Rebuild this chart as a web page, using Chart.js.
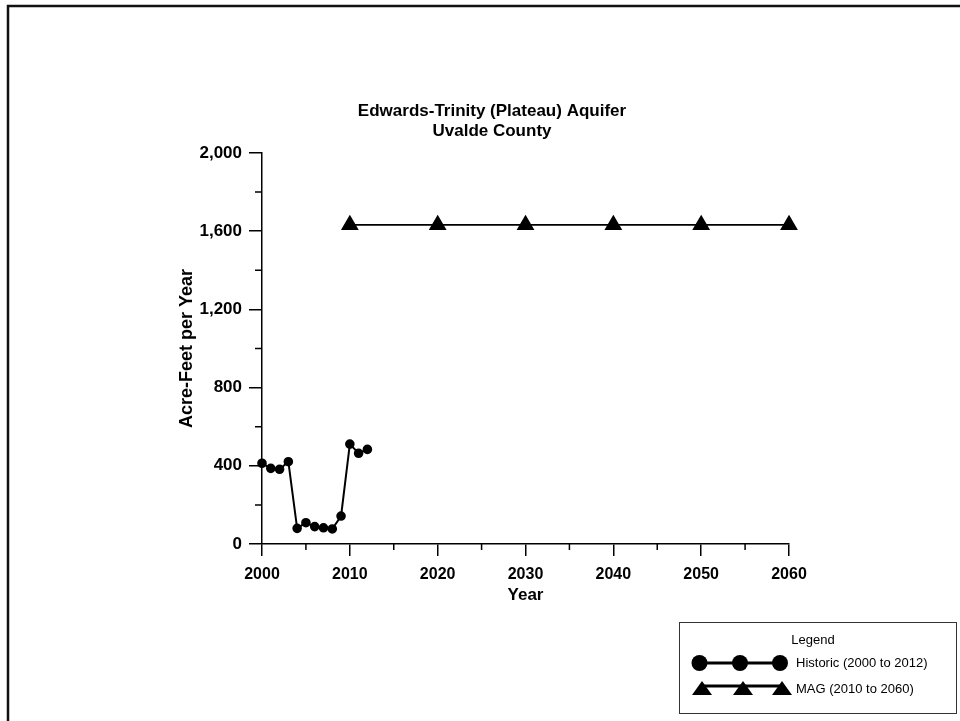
<!DOCTYPE html>
<html>
<head>
<meta charset="utf-8">
<script src="https://cdn.jsdelivr.net/npm/chart.js@4/dist/chart.umd.min.js"></script>
<style>
  html, body { margin: 0; padding: 0; background: #fff; }
  #c { display: block; }
</style>
</head>
<body>
<canvas id="c" width="960" height="721"></canvas>
<script>
// values
const historicYears  = [2000, 2001, 2002, 2003, 2004, 2005, 2006, 2007, 2008, 2009, 2010, 2011, 2012];
const historicValues = [413, 387, 382, 421, 80, 109, 89, 83, 77, 143, 511, 464, 484];
const magYears  = [2010, 2020, 2030, 2040, 2050, 2060];
const magValues = [1632, 1632, 1632, 1632, 1632, 1632];
const titleLines = ["Edwards-Trinity (Plateau) Aquifer", "Uvalde County"];
const xMinorTicks = [2005, 2015, 2025, 2035, 2045, 2055];
const yMinorTicks = [200, 600, 1000, 1400, 1800];

const FONT = "'Liberation Sans', Arial, Helvetica, sans-serif";

// frame, title, minor ticks and the boxed legend
const decor = {
  id: "decor",
  afterDraw(chart) {
    const ctx = chart.ctx, xs = chart.scales.x, ys = chart.scales.y;
    ctx.save();
    // page frame (top + left only)
    ctx.strokeStyle = "#111"; ctx.lineWidth = 2.5;
    ctx.beginPath(); ctx.moveTo(8, 721); ctx.lineTo(8, 6); ctx.lineTo(960, 6); ctx.stroke();

    // title
    ctx.fillStyle = "#000"; ctx.textAlign = "center"; ctx.textBaseline = "middle";
    ctx.font = "bold 17px " + FONT;
    ctx.fillText(titleLines[0], 492, 111);
    ctx.fillText(titleLines[1], 492, 131);

    // minor ticks
    ctx.strokeStyle = "#000"; ctx.lineWidth = 1.5;
    ctx.beginPath();
    xMinorTicks.forEach(v => { const p = xs.getPixelForValue(v); ctx.moveTo(p, xs.top); ctx.lineTo(p, xs.top + 6); });
    yMinorTicks.forEach(v => { const p = ys.getPixelForValue(v); ctx.moveTo(ys.right, p); ctx.lineTo(ys.right - 7, p); });
    ctx.stroke();

    // legend box
    ctx.strokeStyle = "#333"; ctx.lineWidth = 1;
    ctx.strokeRect(679.5, 622.5, 277, 91);
    ctx.font = "13px " + FONT;
    ctx.fillText("Legend", 813, 640);
    ctx.textAlign = "left";
    ctx.fillText("Historic (2000 to 2012)", 796, 663);
    ctx.fillText("MAG (2010 to 2060)", 796, 689);

    ctx.lineWidth = 3; ctx.strokeStyle = "#000"; ctx.fillStyle = "#000";
    ctx.beginPath(); ctx.moveTo(699, 663); ctx.lineTo(780, 663); ctx.stroke();
    [699.5, 740, 780].forEach(x => { ctx.beginPath(); ctx.arc(x, 663, 8, 0, Math.PI * 2); ctx.fill(); });
    ctx.beginPath(); ctx.moveTo(702, 686); ctx.lineTo(782, 686); ctx.stroke();
    [702, 743, 782].forEach(x => {
      ctx.beginPath(); ctx.moveTo(x, 681); ctx.lineTo(x + 10, 695); ctx.lineTo(x - 10, 695); ctx.closePath(); ctx.fill();
    });
    ctx.restore();
  }
};

new Chart(document.getElementById("c"), {
  type: "line",
  data: {
    datasets: [
      {
        label: "Historic (2000 to 2012)",
        data: historicYears.map((y, i) => ({ x: y, y: historicValues[i] })),
        borderColor: "#000", backgroundColor: "#000", borderWidth: 2, clip: false,
        pointStyle: "circle", pointRadius: 3.8, pointHoverRadius: 3.8, tension: 0
      },
      {
        label: "MAG (2010 to 2060)",
        data: magYears.map((y, i) => ({ x: y, y: magValues[i] })),
        borderColor: "#000", backgroundColor: "#000", borderWidth: 1.8, clip: false,
        pointStyle: "triangle", pointRadius: 8.5, pointHoverRadius: 8.5, tension: 0
      }
    ]
  },
  options: {
    responsive: false,
    animation: false,
    events: [],
    layout: { padding: { left: 162, right: 171, top: 153, bottom: 115 } },
    plugins: { legend: { display: false }, title: { display: false }, tooltip: { enabled: false } },
    scales: {
      x: {
        type: "linear", min: 2000, max: 2060,
        afterFit: s => { s.height = 62; },
        border: { display: true, color: "#000", width: 1.5 },
        grid: { display: true, drawOnChartArea: false, drawTicks: true, tickLength: 12, color: "#000", lineWidth: 1.5 },
        ticks: { stepSize: 10, color: "#000", padding: 9, font: { family: FONT, size: 16, weight: "bold" }, callback: v => String(v) },
        title: { display: true, text: "Year", color: "#000", padding: { top: 0, bottom: 0 }, font: { family: FONT, size: 17, weight: "bold" } }
      },
      y: {
        type: "linear", min: 0, max: 2000,
        afterFit: s => { s.width = 100; },
        border: { display: true, color: "#000", width: 1.5 },
        grid: { display: true, drawOnChartArea: false, drawTicks: true, tickLength: 13, color: "#000", lineWidth: 1.5 },
        ticks: { stepSize: 400, color: "#000", padding: 7, font: { family: FONT, size: 17, weight: "bold" } },
        title: { display: true, text: "Acre-Feet per Year", color: "#000", padding: { top: 14, bottom: 0 }, font: { family: FONT, size: 18, weight: "bold" } }
      }
    }
  },
  plugins: [decor]
});
</script>
</body>
</html>
